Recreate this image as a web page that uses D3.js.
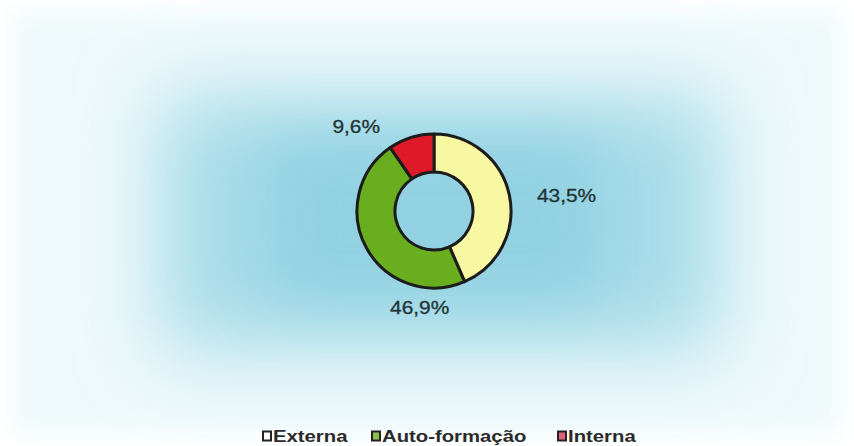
<!DOCTYPE html>
<html>
<head>
<meta charset="utf-8">
<script src="https://cdn.jsdelivr.net/npm/d3@7"></script>
<style>
  html, body { margin: 0; padding: 0; background: #ffffff; }
  svg { display: block; }
</style>
</head>
<body>
<svg id="chart" width="854" height="446"></svg>
<script>
// Training origin shares (percent)
const categories = ["Externa", "Auto-formação", "Interna"];
const values = [43.5, 46.9, 9.6];
const valueLabels = ["43,5%", "46,9%", "9,6%"];
const colors = ["#f8f8a2", "#68ae1f", "#de1a28"];
const legendSwatch = ["#ffffff", "#8cc04a", "#e0607a"];

const W = 854, H = 446;
const svg = d3.select("#chart");
const defs = svg.append("defs");

// soft backdrop
defs.append("filter").attr("id", "haze").attr("x", "-50%").attr("y", "-50%")
  .attr("width", "200%").attr("height", "200%")
  .append("feGaussianBlur").attr("stdDeviation", 40);
defs.append("filter").attr("id", "hazeCore").attr("x", "-50%").attr("y", "-50%")
  .attr("width", "200%").attr("height", "200%")
  .append("feGaussianBlur").attr("stdDeviation", 30);
defs.append("filter").attr("id", "hazeOuter").attr("x", "-20%").attr("y", "-20%")
  .attr("width", "140%").attr("height", "140%")
  .append("feGaussianBlur").attr("stdDeviation", 12);

svg.append("rect").attr("x", 14).attr("y", 12).attr("width", 826).attr("height", 420)
  .attr("fill", "#eef9fb").attr("filter", "url(#hazeOuter)");
svg.append("rect").attr("x", 160).attr("y", 95).attr("width", 560).attr("height", 255)
  .attr("fill", "#a6dbe8").attr("filter", "url(#haze)");
svg.append("rect").attr("x", 270).attr("y", 140).attr("width", 330).attr("height", 160)
  .attr("fill", "#8ccfe0").attr("opacity", 0.8).attr("filter", "url(#hazeCore)");

// donut
const cx = 434, cy = 211, rOuter = 77, rInner = 39;
const pie = d3.pie().sort(null).value(d => d)(values);
const arc = d3.arc().innerRadius(rInner).outerRadius(rOuter);
const g = svg.append("g").attr("transform", `translate(${cx},${cy})`);
g.selectAll("path.slice").data(pie).join("path")
  .attr("class", "slice")
  .attr("d", arc)
  .attr("fill", (d, i) => colors[i])
  .attr("stroke", "#1c1c1c")
  .attr("stroke-width", 3)
  .attr("stroke-linejoin", "round");

// value labels: anchored to each slice's mid-angle, nudged clear of the ring
const labelArc = d3.arc().innerRadius(rOuter + 40).outerRadius(rOuter + 40);
const labelOffsets = [[18, 8], [88, 40], [-43, 27]];
g.selectAll("text.val").data(pie).join("text")
  .attr("class", "val")
  .attr("transform", (d, i) => {
    const [x, y] = labelArc.centroid(d);
    return `translate(${x + labelOffsets[i][0]},${y + labelOffsets[i][1]}) scale(1.1,1)`;
  })
  .attr("text-anchor", "middle")
  .attr("dominant-baseline", "central")
  .attr("font-family", "Liberation Sans, Arial, sans-serif")
  .attr("font-size", 19)
  .attr("fill", "#213434")
  .attr("stroke", "#213434")
  .attr("stroke-width", 0.3)
  .text((d, i) => valueLabels[i]);

// legend
const legendX = [262, 371, 557];
const legendY = 436;
const lg = svg.append("g").attr("class", "legend");
categories.forEach((c, i) => {
  const item = lg.append("g").attr("transform", `translate(${legendX[i]},${legendY})`);
  item.append("rect").attr("x", 1).attr("y", -4.5).attr("width", 8).attr("height", 9)
    .attr("fill", legendSwatch[i]).attr("stroke", "#222").attr("stroke-width", 2);
  item.append("text")
    .attr("transform", "translate(11,0) scale(1.27,1)")
    .attr("dominant-baseline", "central")
    .attr("font-family", "Liberation Sans, Arial, sans-serif")
    .attr("font-weight", "bold")
    .attr("font-size", 16)
    .attr("fill", "#2a2a2a")
    .text(c);
});
</script>
</body>
</html>
